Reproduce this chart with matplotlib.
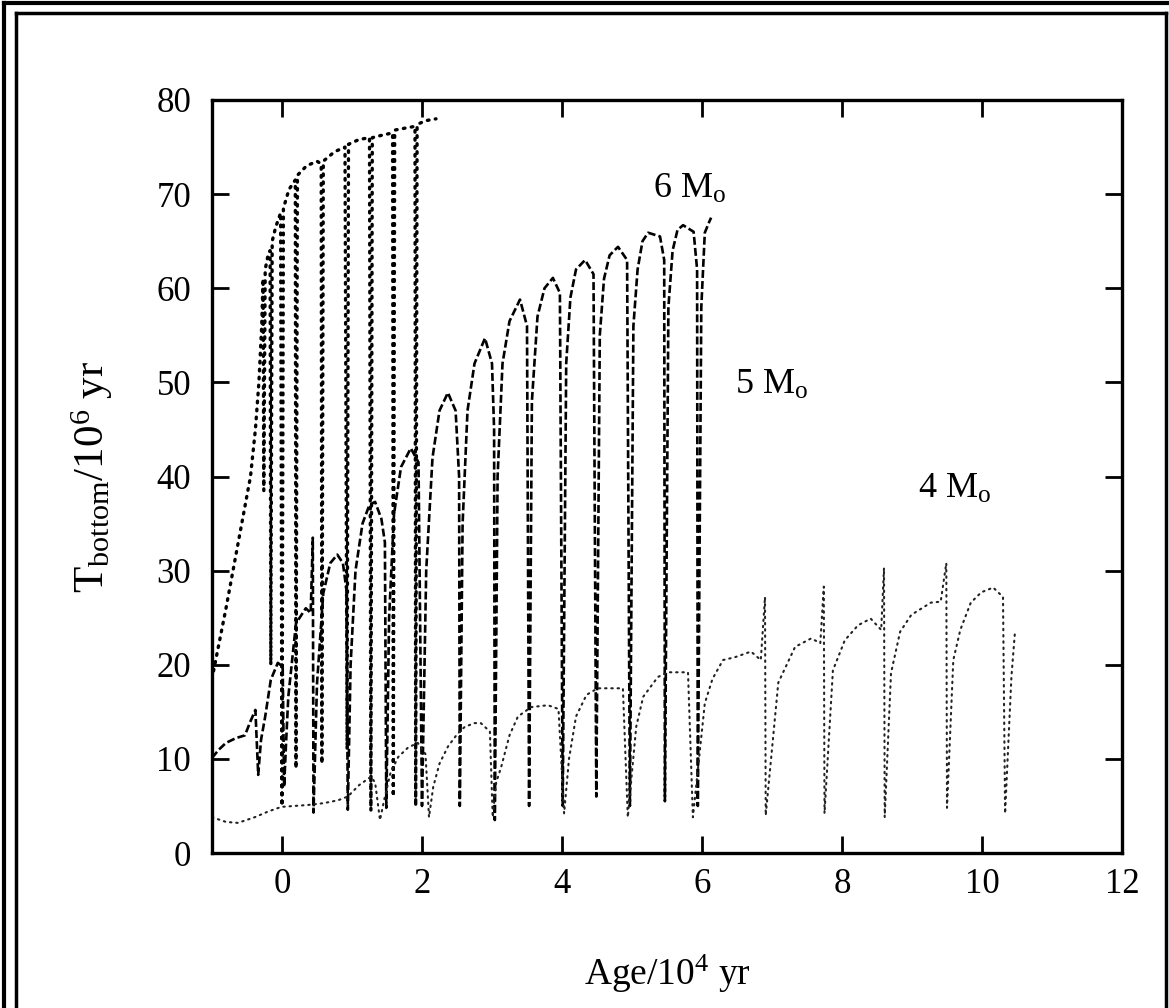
import matplotlib
matplotlib.use('Agg')
import matplotlib.pyplot as plt
from matplotlib.lines import Line2D

plt.rcParams['font.family'] = ['Liberation Serif', 'DejaVu Serif']
plt.rcParams['mathtext.fontset'] = 'custom'
plt.rcParams['mathtext.rm'] = 'Liberation Serif'
plt.rcParams['mathtext.it'] = 'Liberation Serif:italic'

# 6 Mo track (age in 10^4 yr, T in 10^6 K)
x6 = [-1.0, -0.8, -0.6, -0.45, -0.38, -0.33, -0.29, -0.27, -0.26, -0.24, -0.2, -0.17, -0.16, -0.14,
      -0.09, -0.02, 0.0, 0.02, 0.1, 0.19, 0.2, 0.22, 0.35, 0.5, 0.56, 0.57, 0.59, 0.75, 0.9, 0.93,
      0.95, 1.1, 1.25, 1.27, 1.29, 1.45, 1.58, 1.59, 1.61, 1.75, 1.9, 1.91, 1.93, 2.05, 2.2]
y6 = [18.5, 26, 34, 40, 45, 50, 56, 61, 38.5, 62, 63.5, 64, 20, 65,
      66.5, 68, 5, 68.5, 70.5, 71.5, 9, 72, 73, 73.5, 73.2, 9.5, 73.5, 74.5, 75, 11,
      75.3, 75.8, 76, 4.5, 76, 76.3, 76.5, 6, 76.8, 77, 77.2, 5, 77.4, 77.8, 78]

# 5 Mo track
x5 = [-1.0, -0.9, -0.8, -0.66, -0.53, -0.45, -0.38, -0.34, -0.3, -0.24, -0.16, -0.06, 0.01, 0.03,
      0.06, 0.09, 0.2, 0.34, 0.41, 0.44, 0.45, 0.5, 0.59, 0.69, 0.79, 0.87, 0.92, 0.94, 0.98,
      1.05, 1.15, 1.25, 1.33, 1.42, 1.47, 1.49, 1.53, 1.6, 1.7, 1.84, 1.95, 2.0, 2.06, 2.15,
      2.25, 2.37, 2.48, 2.53, 2.54, 2.58, 2.65, 2.75, 2.9, 3.0, 3.03, 3.04, 3.08, 3.15, 3.25,
      3.4, 3.5, 3.53, 3.57, 3.65, 3.75, 3.87, 3.97, 4.01, 4.06, 4.12, 4.2, 4.33, 4.45, 4.49,
      4.54, 4.6, 4.68, 4.8, 4.93, 4.97, 5.02, 5.08, 5.15, 5.23, 5.4, 5.46, 5.47, 5.52, 5.58,
      5.65, 5.73, 5.88, 5.93, 5.94, 5.99, 6.04, 6.1, 6.13]
y5 = [10.1, 11, 11.7, 12.2, 12.5, 14, 15.2, 8.3, 12, 14.5, 18.4, 20.2, 19.8, 7,
      12, 16.6, 24.4, 26.0, 25.5, 33.5, 4.3, 18, 27.6, 30.8, 31.7, 30.8, 28, 4.6, 20,
      30, 35, 37, 37.3, 35.5, 33, 4.8, 25, 36, 41, 43.0, 41.5, 5, 30, 42,
      47, 48.9, 47, 40, 5, 35, 47, 52, 54.7, 52, 45, 3.5, 40, 52, 56.5,
      58.8, 56, 5, 48, 57, 60, 61.1, 59.5, 5, 52, 59, 62, 63.0, 61.5, 6,
      55, 61, 63.5, 64.4, 63, 5, 56, 62, 65, 65.9, 65.5, 63, 5.5, 58, 64,
      66.2, 66.7, 66, 62, 5, 58, 65.9, 67, 67.5]

# 4 Mo track
x4 = [-1.0, -0.8, -0.63, -0.39, -0.2, -0.01, 0.37, 0.6, 0.8, 0.94, 1.1, 1.27, 1.33, 1.4, 1.47,
      1.55, 1.66, 1.8, 1.94, 2.05, 2.1, 2.16, 2.25, 2.37, 2.5, 2.61, 2.75, 2.84, 2.97, 3.01,
      3.06, 3.13, 3.25, 3.37, 3.56, 3.8, 3.95, 4.03, 4.1, 4.2, 4.35, 4.51, 4.87, 4.94, 5.06,
      5.16, 5.37, 5.51, 5.8, 5.87, 6.04, 6.15, 6.3, 6.47, 6.7, 6.84, 6.9, 6.91, 7.09, 7.33,
      7.56, 7.69, 7.74, 7.75, 7.87, 8.04, 8.23, 8.41, 8.56, 8.6, 8.61, 8.7, 8.83, 8.99, 9.27,
      9.41, 9.49, 9.5, 9.59, 9.69, 9.84, 9.99, 10.16, 10.3, 10.33, 10.42, 10.47]
y4 = [3.8, 3.3, 3.2, 3.8, 4.4, 4.9, 5.1, 5.3, 5.6, 6.0, 7.2, 8.1, 7.5, 3.5, 6,
      8.5, 10.2, 11.2, 11.7, 10.5, 3.8, 7, 9.5, 11.3, 12.6, 13.4, 13.8, 13.8, 12.9, 3.8,
      7.5, 9.1, 12.5, 14.5, 15.5, 15.7, 15.3, 4.2, 10, 14.5, 16.8, 17.5, 17.5, 3.8, 13.4,
      16.6, 18.7, 19.2, 19.2, 3.8, 15.9, 18.5, 20.5, 20.8, 21.4, 20.5, 27.2, 4.0, 18.1, 21.9,
      22.8, 22.3, 28.3, 4.2, 19.4, 22.6, 24.2, 24.9, 23.7, 30.3, 3.8, 19.1, 23.5, 25.3, 26.6,
      26.7, 30.8, 4.8, 20.5, 23.7, 26.6, 27.7, 28.2, 27.2, 4.2, 18.7, 23.4]

W, H = 1169, 1008
fig = plt.figure(figsize=(W / 100, H / 100), dpi=100)
ax = fig.add_axes([212 / W, 1 - 853 / H, (1122 - 212) / W, (853 - 100) / H])

ax.plot(x6, y6, color='black', lw=2.4, linestyle=(0, (0.5, 1.9)), dash_capstyle='round')
ax.plot(x5, y5, color='black', lw=1.9, linestyle=(0, (3, 1.2)))
ax.plot(x4, y4, color='#222222', lw=1.5, linestyle=(0, (0.7, 2.3)), dash_capstyle='round')

ax.set_xlim(-1, 12)
ax.set_ylim(0, 80)
ax.set_xticks([0, 2, 4, 6, 8, 10, 12])
ax.set_yticks(range(0, 81, 10))
ax.tick_params(direction='in', length=12, width=2, top=True, right=True, labelsize=25)
ax.tick_params(axis='x', pad=11)
ax.tick_params(axis='y', pad=15)
for s in ax.spines.values():
    s.set_linewidth(2.4)

ax.set_xlabel('Age/10$^4$ yr', fontsize=27, labelpad=37)
ax.set_ylabel('T$_{\\rm bottom}$/10$^6$ yr', fontsize=31, labelpad=30)

ax.text(5.3, 70.5, '6 M$_{\\rm o}$', fontsize=26, va='center')
ax.text(6.47, 49.7, '5 M$_{\\rm o}$', fontsize=26, va='center')
ax.text(9.09, 38.6, '4 M$_{\\rm o}$', fontsize=26, va='center')

# scanned page frame
def fline(x0, y0, x1, y1, lw):
    fig.add_artist(Line2D([x0 / W, x1 / W], [1 - y0 / H, 1 - y1 / H],
                          transform=fig.transFigure, color='black', lw=lw))

fline(4, 3, 4, H, 3)
fline(4, 3, W, 3, 3)
fline(16, 13, 16, H, 2.5)
fline(16, 13, 1166, 13, 2.5)
fline(1166, 13, 1166, H, 2.5)

fig.savefig('out.png', dpi=100)
